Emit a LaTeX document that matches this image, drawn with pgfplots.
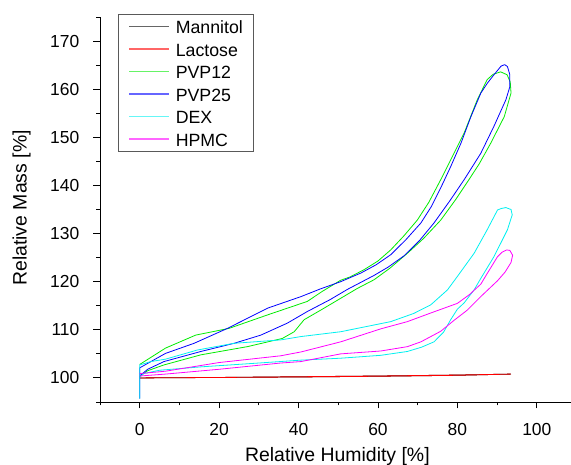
\documentclass[border=0pt]{standalone}
\usepackage{fontspec}
\setmainfont{Liberation Sans}
\usepackage{pgfplots}
\pgfplotsset{compat=1.18}
\definecolor{cgreen}{RGB}{0,235,0}
\definecolor{cblue}{RGB}{0,0,255}
\definecolor{ccyan}{RGB}{0,240,240}
\definecolor{cmag}{RGB}{255,0,255}
\definecolor{cred}{RGB}{255,0,0}
\begin{document}
\begin{tikzpicture}
\begin{axis}[
  scale only axis, width=471bp, height=385bp,
  xmin=-10, xmax=108.6, ymin=95, ymax=175,
  axis lines=left,
  axis line style={-, line width=0.9bp},
  x axis line style={-}, y axis line style={-},
  xtick={0,20,...,100}, ytick={100,110,...,170},
  minor xtick={-10,10,30,50,70,90}, minor ytick={95,105,...,175},
  tick align=outside, major tick length=6.5bp, minor tick length=3.5bp,
  every tick/.style={black, line width=0.9bp},
  /pgf/number format/assume math mode=true,
  tick label style={font=\fontsize{17.5}{20}\selectfont},
  yticklabel style={inner sep=0pt, anchor=east, xshift=-14bp},
  xticklabel style={inner sep=0pt, anchor=north, yshift=-14.5bp},
  xlabel={Relative Humidity [\%]},
  ylabel={Relative Mass [\%]},
  label style={font=\fontsize{19.5}{22}\selectfont},
  xlabel style={at={(axis description cs:0.504,-0.155)}, anchor=base},
  ylabel style={at={(axis description cs:-0.1556,0.504)}, anchor=base},
  legend cell align=left,
  legend style={at={(0.0382,1.0078)}, anchor=north west, draw=black!65, line width=0.5bp,
    inner xsep=10bp, inner ysep=5bp, row sep=7.8bp, column sep=6bp,
    font=\fontsize{17.8}{20}\selectfont,
    nodes={inner sep=0pt, text height=14.7bp, text depth=0bp}},
  legend image code/.code={\draw[#1, line width=1.6bp, draw opacity=0.6] (0bp,0bp) -- (40bp,0bp);},
  every axis plot/.append style={line width=0.8bp, line join=round},
]
% Mannitol
\addplot[draw=black] coordinates {(0,100) (20,100.1) (40,100.2) (60,100.35) (80,100.55) (93.4,100.8) (80,100.6) (60,100.4) (40,100.25) (20,100.1) (0,100)};
\addlegendentry{Mannitol}
% Lactose
\addplot[draw=cred] coordinates {(0,100) (20,100.1) (40,100.2) (60,100.35) (80,100.55) (93.4,100.8) (80,100.6) (60,100.4) (40,100.25) (20,100.1) (0,100)};
\addlegendentry{Lactose}
% PVP12
\addplot[draw=cgreen] coordinates {
(0,100.3) (2,101.5) (6.1,102.7) (15.4,104.8) (27.1,106.5) (35.9,108.2) (38.9,109.6) (41.4,112.1) (45.6,114.1) (54.8,118.6) (59,120.4) (63,122.8) (67.4,125.9) (71.5,129) (75.8,132.8) (79.5,137) (82.9,141.2) (85.5,144.5) (88.4,148.8) (91.8,154.3) (93.5,159.2) (93.3,161.5) (92.5,163) (90.9,163.6)
(89,163.1) (87.5,162) (85,157.8) (81.7,150.9) (78.3,145.3) (75.8,141.2) (72.8,136.5) (69.9,132.8) (66.5,129.5) (63.2,126.6) (60,124.3) (56.5,122.5) (53,121) (50.6,120.3) (46,118) (42.2,115.9) (32.2,113.1) (22.5,110.3) (14.1,108.9) (6.5,106.2) (0,102.8)};
\addlegendentry{PVP12}
% PVP25
\addplot[draw=cblue] coordinates {
(0,100.4) (2,101.8) (6.1,103.4) (15.4,105.5) (23.8,107.2) (30.5,108.9) (37.2,111.4) (42.2,113.8) (48,116.3) (52.3,118.4) (56,120) (59,121.3) (62.5,123) (66.6,125.4) (70.5,128.6) (74.1,132.2) (78,136.7) (81.7,141.2) (85.9,146.7) (89.2,152.3) (92.2,157.8) (93.2,160.5) (93.2,163) (92.6,164.7) (91.9,165.1) (91,164.8)
(89.2,163) (87.5,161.2) (85.9,159.2) (83.4,154.3) (80.9,148.8) (78.3,143.9) (76.2,140.2) (73.5,135.7) (70.8,132.2) (67,128.7) (63.2,125.6) (59.5,123.5) (55.7,121.8) (50.6,120) (45.5,118.5) (40.6,116.9) (32.2,114.5) (22.1,110.3) (13.7,107.2) (6.5,105.1) (0,102.1) (0,95.7)};
\addlegendentry{PVP25}
% DEX
\addplot[draw=ccyan] coordinates {
(0,100.2) (1,100.9) (5,101.6) (15.4,102.3) (30,103.1) (40.6,103.7) (50.6,104.1) (60.7,104.7) (67.4,105.5) (71,106.4) (74.1,107.5) (76.5,109.5) (78.3,112.1) (80,114.3) (81.7,115.6) (84.2,118.3) (85.9,120.7) (89.2,125.2) (92.6,130.8) (93.8,133.9) (93.5,135) (92.2,135.4) (91,135.2)
(90.1,134.9) (87.5,130.8) (84.2,125.9) (80,121.1) (77.5,118.3) (73.3,115.2) (69,113.4) (63.2,111.7) (50.6,109.6) (40.6,108.6) (35.5,107.9) (23.8,107.2) (14.5,105.8) (6.5,103.9) (2.8,103.4) (0,102.7) (0,95.7)};
\addlegendentry{DEX}
% HPMC
\addplot[draw=cmag] coordinates {
(0,100.4) (6.5,100.8) (20,101.8) (35.5,103.1) (40.6,103.4) (50.6,105) (60.7,105.6) (67.4,106.5) (70.8,107.5) (75.8,109.7) (79.2,112) (82.5,114.1) (86,117) (90.1,120.2) (92,122) (93.5,124) (93.9,125.5) (93.2,126.5) (92.4,126.6) (91.2,126.1)
(90.1,125.2) (87.5,121.7) (85.9,119.5) (83,117.3) (80,115.5) (73.3,113.5) (67.4,111.7) (60.7,110.2) (50.6,107.5) (40.6,105.4) (35.5,104.6) (20,103.2) (6.5,101.4) (0,100.9)};
\addlegendentry{HPMC}
\end{axis}
\pgfresetboundingbox
\path (-100bp,-63bp) rectangle (471bp,402bp);
\end{tikzpicture}
\end{document}
